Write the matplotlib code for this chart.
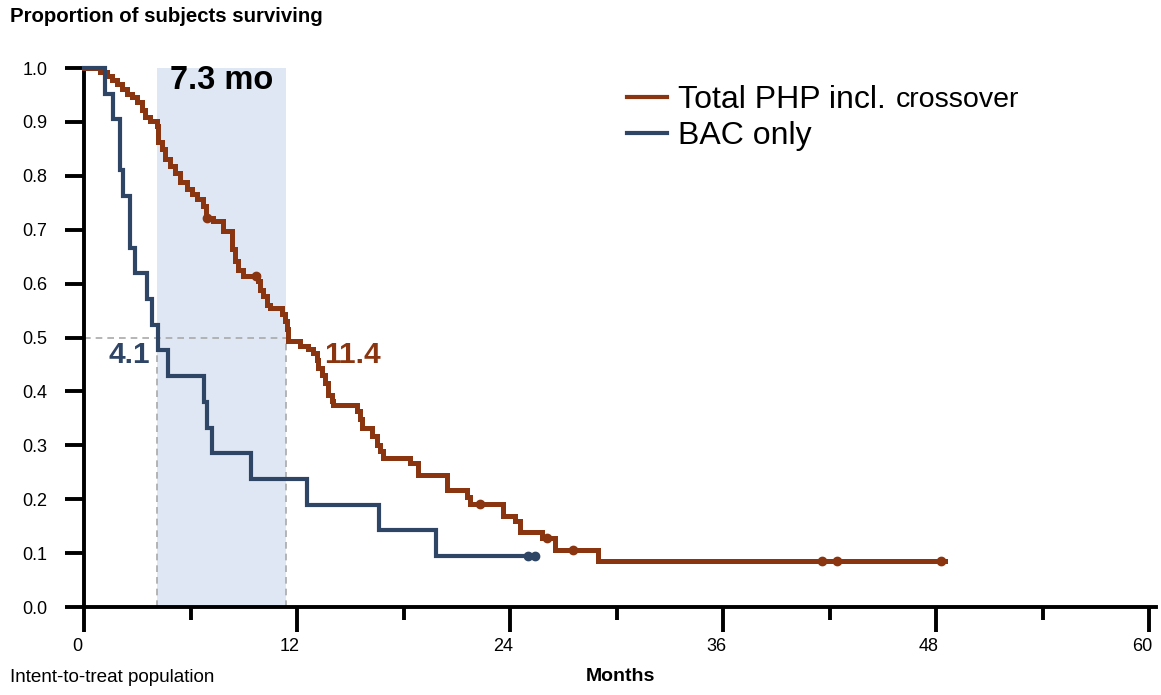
"""Kaplan-Meier style survival chart: PHP vs BAC."""

import matplotlib

matplotlib.use("Agg")
import matplotlib.pyplot as plt
from matplotlib.transforms import ScaledTranslation

# --- data ----------------------------------------------------------------
php_time = [0, 0.9, 1.28, 1.56, 1.84, 2.12, 2.41, 2.69, 2.97, 3.25, 3.44,
            3.72, 4.10, 4.19, 4.38, 4.56, 4.85, 5.13, 5.41, 5.79, 6.07,
            6.35, 6.70, 6.85, 7.28, 7.85, 8.32, 8.51, 8.70, 8.98, 9.82,
            9.92, 10.1, 10.3, 10.48, 11.14, 11.32, 11.42, 11.51, 12.17,
            12.64, 12.92, 13.11, 13.2, 13.39, 13.58, 13.76, 13.95, 14.05,
            15.36, 15.55, 15.64, 16.2, 16.49, 16.68, 16.86, 18.37, 18.84,
            20.45, 21.6, 21.75, 23.6, 24.28, 24.56, 25.8, 26.54, 28.98, 48.5]
php_surv = [1.0, 0.993, 0.985, 0.978, 0.970, 0.961, 0.952, 0.946, 0.937,
            0.922, 0.909, 0.902, 0.893, 0.862, 0.849, 0.831, 0.818, 0.806,
            0.789, 0.776, 0.766, 0.757, 0.744, 0.722, 0.716, 0.698, 0.664,
            0.642, 0.626, 0.614, 0.605, 0.589, 0.577, 0.561, 0.555, 0.543,
            0.530, 0.515, 0.493, 0.484, 0.478, 0.472, 0.459, 0.444, 0.431,
            0.416, 0.394, 0.382, 0.375, 0.363, 0.348, 0.332, 0.317, 0.301,
            0.289, 0.276, 0.267, 0.245, 0.217, 0.205, 0.191, 0.168, 0.159,
            0.140, 0.128, 0.106, 0.086, 0.086]
php_censor_time = [6.95, 9.7, 22.3, 26.07, 27.57, 41.6, 42.4, 48.3]
php_censor_surv = [0.722, 0.614, 0.191, 0.128, 0.106, 0.086, 0.086, 0.086]

bac_time = [0, 1.2, 1.65, 2.0, 2.2, 2.6, 2.87, 3.53, 3.81, 4.17, 4.74,
            6.76, 6.9, 7.19, 9.41, 12.57, 16.6, 19.83, 25.4]
bac_surv = [1.0, 0.952, 0.905, 0.810, 0.762, 0.667, 0.619, 0.571, 0.524,
            0.476, 0.429, 0.381, 0.333, 0.286, 0.238, 0.190, 0.143, 0.095,
            0.095]
bac_censor_time = [25.0, 25.4]
bac_censor_surv = [0.095, 0.095]

median_bac = 4.1
median_php = 11.4

x_ticks = [0, 12, 24, 36, 48, 60]
y_ticks = [round(0.1 * i, 1) for i in range(11)]

PHP_COLOR = "#8a3510"
BAC_COLOR = "#2e4566"
SHADE_COLOR = "#dee7f3"
DASH_COLOR = "#a9a9a9"

plt.rcParams["font.family"] = ["Liberation Sans", "DejaVu Sans"]

fig = plt.figure(figsize=(11.61, 6.95), dpi=100)
ax = fig.add_axes([0.0724, 0.1266, 0.9234, 0.7755])

# shaded gap between the two medians and the guide lines
ax.axvspan(median_bac, median_php, ymin=0, ymax=1, color=SHADE_COLOR, lw=0, zorder=0)
ax.plot([0, median_php], [0.5, 0.5], ls=(0, (4, 3)), color=DASH_COLOR, lw=1.2, zorder=1)
ax.plot([median_bac, median_bac], [0, 0.5], ls=(0, (4, 3)), color=DASH_COLOR, lw=1.2, zorder=1)
ax.plot([median_php, median_php], [0, 0.5], ls=(0, (4, 3)), color=DASH_COLOR, lw=1.2, zorder=1)

# survival curves
ax.plot(php_time, php_surv, drawstyle="steps-post", color=PHP_COLOR, lw=3.6,
        solid_joinstyle="miter", clip_on=False, zorder=3, label="Total PHP incl.")
ax.plot(bac_time, bac_surv, drawstyle="steps-post", color=BAC_COLOR, lw=3.0,
        solid_joinstyle="miter", clip_on=False, zorder=4, label="BAC only")
ax.plot(php_censor_time, php_censor_surv, ls="none", marker="o", ms=6,
        color=PHP_COLOR, zorder=3, clip_on=False)
ax.plot(bac_censor_time, bac_censor_surv, ls="none", marker="o", ms=6,
        color=BAC_COLOR, zorder=4, clip_on=False)

# median annotations
ax.text((median_bac + median_php) / 2, 0.976, f"{median_php - median_bac:.1f} mo",
        ha="center", va="center", fontsize=23.5, fontweight="bold", color="black")
ax.text(2.54, 0.468, f"{median_bac}", ha="center", va="center",
        fontsize=21.5, fontweight="bold", color=BAC_COLOR)
ax.text(15.1, 0.468, f"{median_php}", ha="center", va="center",
        fontsize=21.5, fontweight="bold", color=PHP_COLOR)

# axes styling
ax.set_xlim(0, 60.4)
ax.set_ylim(0, 1.0)
for side in ("top", "right"):
    ax.spines[side].set_visible(False)
for side in ("left", "bottom"):
    ax.spines[side].set_linewidth(2.8)

ax.set_xticks(x_ticks)
ax.set_xticks([6, 18, 30, 42, 54], minor=True)
ax.set_yticks(y_ticks)
ax.set_yticklabels([f"{v:.1f}" for v in y_ticks])
ax.tick_params(axis="x", which="major", length=18, width=2.8, direction="out",
               labelsize=13, pad=4)
ax.tick_params(axis="x", which="minor", length=9, width=2.8, direction="out")
ax.tick_params(axis="y", which="major", length=13.5, width=2.8, direction="out",
               labelsize=13, pad=13)
shift = ScaledTranslation(-7 / 100, 0, fig.dpi_scale_trans)
for lab in ax.get_xticklabels():
    lab.set_transform(lab.get_transform() + shift)

ax.set_xlabel("Months", fontsize=14, fontweight="bold", labelpad=10)

fig.text(10 / 1161, 1 - 17 / 695, "Proportion of subjects surviving",
         fontsize=14.7, fontweight="bold", ha="left", va="center")
fig.text(10 / 1161, 1 - 678 / 695, "Intent-to-treat population",
         fontsize=13.6, ha="left", va="center")

# legend with the smaller "crossover" tail
leg = ax.legend(loc="upper left", bbox_to_anchor=(0.5065, 0.968), frameon=False,
                fontsize=23, handlelength=1.25, handletextpad=0.34,
                labelspacing=0.18, borderpad=0, borderaxespad=0)
for line in leg.get_lines():
    line.set_linewidth(3.0)
ax.annotate("crossover", xy=(1, 0), xycoords=leg.get_texts()[0],
            xytext=(7, 2), textcoords="offset points", fontsize=20.5,
            ha="left", va="bottom", zorder=10)

fig.canvas.draw()
fig.savefig("out.png", dpi=100)
